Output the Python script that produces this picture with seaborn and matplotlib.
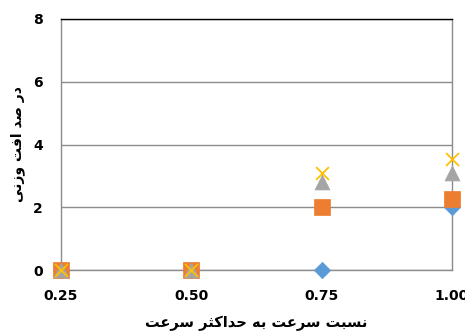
import matplotlib
matplotlib.use("Agg")
import matplotlib.pyplot as plt
import seaborn as sns
import pandas as pd

# ---- data -------------------------------------------------------------
speed_ratio = [0.25, 0.50, 0.75, 1.00]
series_a = [0.0, 0.0, 0.0, 2.0]     # blue diamonds
series_b = [0.0, 0.0, 2.0, 2.25]    # orange squares
series_c = [0.0, 0.0, 2.8, 3.1]     # grey triangles
series_d = [0.0, 0.0, 3.1, 3.55]    # yellow crosses
x_tick_labels = ["0.25", "0.50", "0.75", "1.00"]
y_ticks = [0, 2, 4, 6, 8]
x_title = "نسبت سرعت به حداکثر سرعت"
y_title = "در صد افت وزنی"

# ---- minimal Arabic/Persian shaping (contextual forms + visual order) --
# letter: (isolated, final, initial, medial); None = does not join forward
FORMS = {
    "ا": ("\uFE8D", "\uFE8E", None, None),
    "ب": ("\uFE8F", "\uFE90", "\uFE91", "\uFE92"),
    "ت": ("\uFE95", "\uFE96", "\uFE97", "\uFE98"),
    "ث": ("\uFE99", "\uFE9A", "\uFE9B", "\uFE9C"),
    "ح": ("\uFEA1", "\uFEA2", "\uFEA3", "\uFEA4"),
    "د": ("\uFEA9", "\uFEAA", None, None),
    "ر": ("\uFEAD", "\uFEAE", None, None),
    "ز": ("\uFEAF", "\uFEB0", None, None),
    "س": ("\uFEB1", "\uFEB2", "\uFEB3", "\uFEB4"),
    "ص": ("\uFEB9", "\uFEBA", "\uFEBB", "\uFEBC"),
    "ع": ("\uFEC9", "\uFECA", "\uFECB", "\uFECC"),
    "ف": ("\uFED1", "\uFED2", "\uFED3", "\uFED4"),
    "ن": ("\uFEE5", "\uFEE6", "\uFEE7", "\uFEE8"),
    "ه": ("\uFEE9", "\uFEEA", "\uFEEB", "\uFEEC"),
    "و": ("\uFEED", "\uFEEE", None, None),
    "ک": ("\uFB8E", "\uFB8F", "\uFB90", "\uFB91"),
    "ی": ("\uFBFC", "\uFBFD", "\uFBFE", "\uFBFF"),
}


def shape(text):
    out = []
    for i, ch in enumerate(text):
        if ch not in FORMS:
            out.append(ch)
            continue
        prev = text[i - 1] if i > 0 else None
        nxt = text[i + 1] if i + 1 < len(text) else None
        iso, fin, ini, med = FORMS[ch]
        joins_prev = prev in FORMS and FORMS[prev][2] is not None
        joins_next = ini is not None and nxt in FORMS
        if joins_prev and joins_next:
            out.append(med)
        elif joins_prev:
            out.append(fin)
        elif joins_next:
            out.append(ini)
        else:
            out.append(iso)
    return "".join(reversed(out))


# ---- figure -----------------------------------------------------------
sns.set_theme(style="white")
plt.rcParams["font.family"] = ["DejaVu Sans"]

fig = plt.figure(figsize=(4.65, 3.33), dpi=100)
ax = fig.add_axes([61 / 465, 1 - 270 / 333, (452 - 61) / 465, (270 - 19) / 333])

df = pd.DataFrame({
    "x": speed_ratio * 4,
    "y": series_a + series_b + series_c + series_d,
    "s": ["a"] * 4 + ["b"] * 4 + ["c"] * 4 + ["d"] * 4,
})

styles = {
    "a": dict(marker="D", color="#5B9BD5", s=70, edgecolor="#5B9BD5", linewidth=0.5),
    "b": dict(marker="s", color="#ED7D31", s=135, edgecolor="#ED7D31", linewidth=0.5),
    "c": dict(marker="^", color="#A5A5A5", s=115, edgecolor="#A5A5A5", linewidth=0.5),
    "d": dict(marker="x", color="#FFC000", s=85, linewidth=1.3),
}

for key, kw in styles.items():
    sub = df[df["s"] == key]
    sns.scatterplot(data=sub, x="x", y="y", ax=ax, legend=False,
                    clip_on=False, zorder=3, **kw)

ax.set_xlim(0.25, 1.0)
ax.set_ylim(0, 8)
ax.set_xticks(speed_ratio)
ax.set_xticklabels(x_tick_labels)
ax.set_yticks(y_ticks)
ax.set_yticklabels([str(v) for v in y_ticks])

ax.yaxis.grid(True, color="#8C8C8C", linewidth=1.0)
ax.set_axisbelow(True)
for side in ("left", "right", "bottom"):
    ax.spines[side].set_color("#8C8C8C")
    ax.spines[side].set_linewidth(1.0)
ax.spines["top"].set_color("black")
ax.spines["top"].set_linewidth(1.0)

ax.tick_params(axis="both", length=0, labelsize=10, labelcolor="black")
ax.tick_params(axis="x", pad=14)
ax.tick_params(axis="y", pad=13)
for lbl in ax.get_xticklabels() + ax.get_yticklabels():
    lbl.set_fontweight("bold")

ax.set_xlabel(shape(x_title), fontsize=10.5, fontweight="bold",
              color="black", labelpad=9)
ax.set_ylabel(shape(y_title), fontsize=10, fontweight="bold",
              color="black", labelpad=6)

fig.savefig("out.png", dpi=100)
